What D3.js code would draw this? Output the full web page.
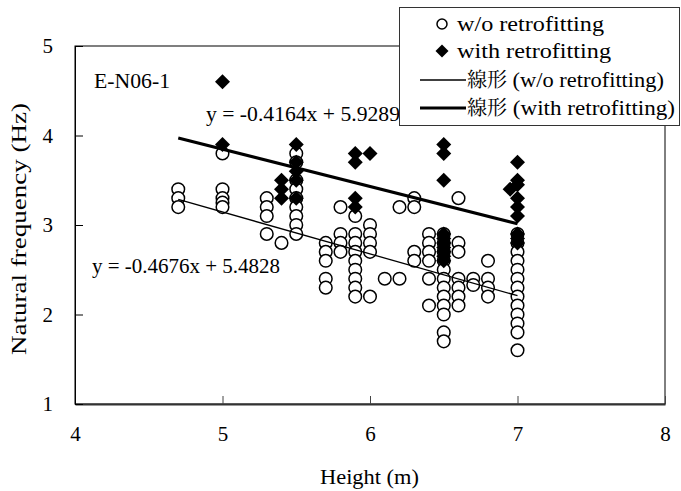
<!DOCTYPE html>
<html>
<head>
<meta charset="utf-8">
<script src="https://cdn.jsdelivr.net/npm/d3@7/dist/d3.min.js"></script>
<style>
  html, body { margin: 0; padding: 0; background: #fff; }
  svg { display: block; }
  svg text { font-family: "Liberation Serif", "Times New Roman", Times, "DejaVu Serif", serif; fill: #000; }
  svg text.cjk { font-family: "Noto Serif CJK JP", "Noto Sans CJK JP", "Noto Sans CJK TC", sans-serif; }
</style>
</head>
<body>
<svg id="chart" width="681" height="491"></svg>
<script>
// ---- data ----
const xTicks = [4, 5, 6, 7, 8];
const yTicks = [1, 2, 3, 4, 5];

const woHeights = [4.7, 5.0, 5.3, 5.4, 5.5, 5.7, 5.8, 5.9, 6.0, 6.1, 6.2, 6.3, 6.4, 6.5, 6.6, 6.7, 6.8, 7.0];
const woFreqs = [
  [3.4, 3.3, 3.2],
  [3.8, 3.4, 3.3, 3.25, 3.2],
  [3.3, 3.2, 3.1, 2.9],
  [2.8],
  [3.8, 3.7, 3.5, 3.4, 3.3, 3.2, 3.1, 3.0, 2.9],
  [2.8, 2.7, 2.6, 2.4, 2.3],
  [3.2, 2.9, 2.8, 2.7],
  [3.1, 2.9, 2.8, 2.7, 2.6, 2.5, 2.4, 2.3, 2.2],
  [3.0, 2.9, 2.8, 2.7, 2.2],
  [2.4],
  [3.2, 2.4],
  [3.3, 3.2, 2.7, 2.6],
  [2.9, 2.8, 2.7, 2.6, 2.4, 2.1],
  [2.9, 2.8, 2.7, 2.6, 2.5, 2.4, 2.3, 2.2, 2.1, 2.0, 1.8, 1.7],
  [3.3, 2.8, 2.7, 2.4, 2.3, 2.2, 2.1],
  [2.4, 2.33],
  [2.6, 2.4, 2.3, 2.2],
  [2.9, 2.8, 2.7, 2.6, 2.5, 2.4, 2.3, 2.2, 2.1, 2.0, 1.9, 1.8, 1.6]
];

const withHeights = [5.0, 5.4, 5.5, 5.9, 6.0, 6.5, 6.95, 7.0];
const withFreqs = [
  [4.6, 3.9],
  [3.5, 3.4, 3.3],
  [3.9, 3.7, 3.6, 3.5, 3.3],
  [3.8, 3.7, 3.3, 3.2],
  [3.8],
  [3.9, 3.8, 3.5, 2.9, 2.85, 2.8, 2.75, 2.7, 2.65, 2.6],
  [3.4],
  [3.7, 3.5, 3.45, 3.3, 3.2, 3.1, 2.9, 2.85, 2.8]
];

// linear trend lines: slope / intercept, drawn over the data's height range
const trendSlopes = [-0.4676, -0.4164];
const trendIntercepts = [5.4828, 5.9289];
const trendRange = [4.7, 7.0];
const trendLabels = ["y = -0.4676x + 5.4828", "y = -0.4164x + 5.9289"];

const legendPrefix = ["", "", "線形", "線形"];
const legendLabels = ["w/o retrofitting", "with retrofitting", " (w/o retrofitting)", " (with retrofitting)"];
const panelLabel = "E-N06-1";
const xTitle = "Height (m)";
const yTitle = "Natural frequency (Hz)";

// ---- layout ----
const svg = d3.select("#chart");
const L = 75, R = 665, T = 46, B = 404;
const x = d3.scaleLinear().domain([4, 8]).range([L, R]);
const y = d3.scaleLinear().domain([1, 5]).range([B, T]);
const FS = 22;
const SERIF = '"Liberation Serif", "Times New Roman", Times, "DejaVu Serif", serif';

const woPts = woHeights.flatMap((h, i) => woFreqs[i].map(f => [h, f]));
const withPts = withHeights.flatMap((h, i) => withFreqs[i].map(f => [h, f]));

// frame
svg.append("rect").attr("x", L).attr("y", T).attr("width", R - L).attr("height", B - T)
  .attr("fill", "none").attr("stroke", "#000").attr("stroke-width", 1);

// axes (inward ticks)
const xAxis = d3.axisBottom(x).tickValues(xTicks).tickFormat(d3.format("d"))
  .tickSizeInner(-8).tickSizeOuter(0).tickPadding(22);
const gx = svg.append("g").attr("transform", `translate(0,${B})`).call(xAxis);
gx.attr("font-family", SERIF);
gx.select(".domain").attr("stroke", "#333").attr("stroke-width", 2);
gx.selectAll(".tick line").attr("stroke", "#444");
gx.selectAll(".tick text").attr("font-size", 21).attr("fill", "#000");

const yAxis = d3.axisLeft(y).tickValues(yTicks).tickFormat(d3.format("d"))
  .tickSizeInner(-8).tickSizeOuter(0).tickPadding(22);
const gy = svg.append("g").attr("transform", `translate(${L},0)`).call(yAxis);
gy.attr("font-family", SERIF);
gy.select(".domain").attr("stroke", "#000").attr("stroke-width", 1);
gy.selectAll(".tick line").attr("stroke", "#000");
gy.selectAll(".tick text").attr("font-size", 21).attr("fill", "#000");

// titles
svg.append("text").attr("x", 320).attr("y", 484)
  .attr("font-size", FS).attr("textLength", 99).attr("lengthAdjust", "spacingAndGlyphs").text(xTitle);
svg.append("text").attr("transform", `translate(26,355) rotate(-90)`)
  .attr("font-size", FS).attr("textLength", 252).attr("lengthAdjust", "spacingAndGlyphs").text(yTitle);

// markers
function diamondPath(h) { // h = half diagonal
  return `M0,${-h}L${h},0L0,${h}L${-h},0Z`;
}
svg.append("g").selectAll("circle").data(woPts).join("circle")
  .attr("cx", d => x(d[0])).attr("cy", d => y(d[1])).attr("r", 6.3)
  .attr("fill", "#fff").attr("stroke", "#000").attr("stroke-width", 1.5);

svg.append("g").selectAll("path").data(withPts).join("path")
  .attr("transform", d => `translate(${x(d[0])},${y(d[1])})`)
  .attr("d", diamondPath(7.5)).attr("fill", "#000");

// trend lines
const trendWidths = [1.3, 3.2];
trendSlopes.forEach((m, i) => {
  const b = trendIntercepts[i];
  svg.append("line")
    .attr("x1", x(trendRange[0])).attr("y1", y(m * trendRange[0] + b))
    .attr("x2", x(trendRange[1])).attr("y2", y(m * trendRange[1] + b))
    .attr("stroke", "#000").attr("stroke-width", trendWidths[i]);
});

// equation labels & panel label
svg.append("text").attr("x", 92).attr("y", 273).attr("font-size", FS)
  .attr("textLength", 188).attr("lengthAdjust", "spacingAndGlyphs").text(trendLabels[0]);
svg.append("text").attr("x", 206).attr("y", 121).attr("font-size", FS)
  .attr("textLength", 194).attr("lengthAdjust", "spacingAndGlyphs").text(trendLabels[1]);
svg.append("text").attr("x", 94).attr("y", 88).attr("font-size", FS)
  .attr("textLength", 76).attr("lengthAdjust", "spacingAndGlyphs").text(panelLabel);

// legend
const lg = svg.append("g");
lg.append("rect").attr("x", 399.5).attr("y", 7.5).attr("width", 280).attr("height", 118)
  .attr("fill", "#fff").attr("stroke", "#333").attr("stroke-width", 1);
const rowY = [24, 51, 80, 108];
lg.append("circle").attr("cx", 442).attr("cy", rowY[0]).attr("r", 5)
  .attr("fill", "#fff").attr("stroke", "#000").attr("stroke-width", 1.5);
lg.append("path").attr("transform", `translate(442,${rowY[1]})`).attr("d", diamondPath(6.5)).attr("fill", "#000");
lg.append("line").attr("x1", 420).attr("x2", 466).attr("y1", rowY[2]).attr("y2", rowY[2])
  .attr("stroke", "#000").attr("stroke-width", trendWidths[0]);
lg.append("line").attr("x1", 420).attr("x2", 466).attr("y1", rowY[3]).attr("y2", rowY[3])
  .attr("stroke", "#000").attr("stroke-width", trendWidths[1]);
const textX = [457, 457, 467, 467];
const textEnd = [604, 611, 664, 675];
const cjkW = 42;
legendLabels.forEach((t, i) => {
  let x0 = textX[i];
  if (legendPrefix[i]) {
    lg.append("text").attr("class", "cjk").attr("x", x0).attr("y", rowY[i] + 7)
      .attr("font-size", FS - 2).attr("textLength", cjkW - 2).attr("lengthAdjust", "spacingAndGlyphs")
      .text(legendPrefix[i]);
    x0 += cjkW - 2;
  }
  lg.append("text").attr("x", x0).attr("y", rowY[i] + 7).attr("font-size", FS)
    .attr("textLength", textEnd[i] - x0).attr("lengthAdjust", "spacingAndGlyphs")
    .attr("xml:space", "preserve").style("white-space", "pre").text(t);
});
</script>
</body>
</html>
